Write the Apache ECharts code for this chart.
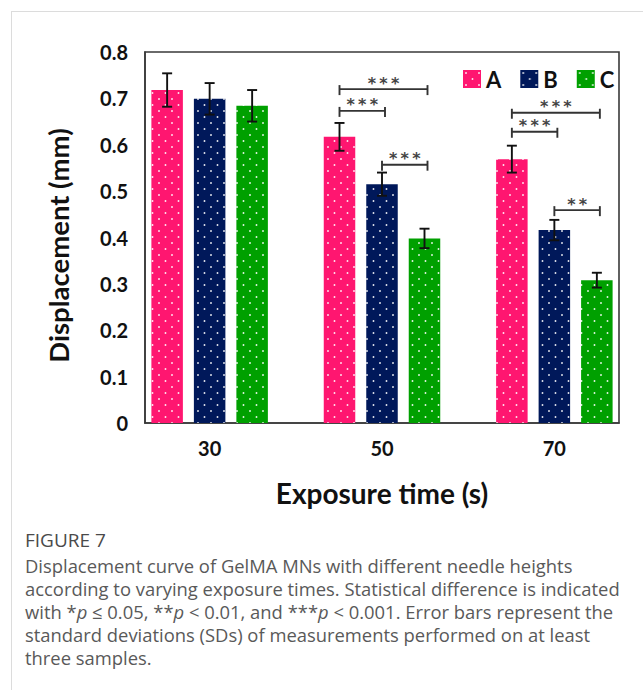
<!DOCTYPE html>
<html>
<head>
<meta charset="utf-8">
<script src="https://cdn.jsdelivr.net/npm/echarts@6/dist/echarts.min.js"></script>
<style>
  html, body { margin: 0; padding: 0; background: #fff; }
  #wrap { position: relative; width: 643px; height: 690px; overflow: hidden; }
  #chart { position: absolute; left: 0; top: 0; width: 643px; height: 690px; }
  #frameTop { position: absolute; left: 11px; top: 11px; width: 640px; height: 0; border-top: 1.5px solid #dcdcdc; }
  #frameLeft { position: absolute; left: 11px; top: 11px; width: 0; height: 690px; border-left: 1.5px solid #dcdcdc; }
  #caption { position: absolute; left: 25px; top: 527px; width: 616px; font-family: "Open Sans", "Lato", sans-serif; color: #595959; }
  #caption .fig { font-size: 19px; color: #4a4a4a; margin-bottom: 1px; line-height: 26px; }
  #caption .txt { font-size: 18.4px; line-height: 23px; white-space: nowrap; }
</style>
</head>
<body>
<div id="wrap">
  <div id="frameTop"></div>
  <div id="frameLeft"></div>
  <div id="chart"></div>
  <div id="caption">
    <div class="fig">FIGURE 7</div>
    <div class="txt">Displacement curve of GelMA MNs with different needle heights<br>according to varying exposure times. Statistical difference is indicated<br>with *<i>p</i> ≤ 0.05, **<i>p</i> &lt; 0.01, and ***<i>p</i> &lt; 0.001. Error bars represent the<br>standard deviations (SDs) of measurements performed on at least<br>three samples.</div>
  </div>
</div>
<script>
// ---- data ----
const categories = [30, 50, 70];
const seriesNames = ['A', 'B', 'C'];
const meanA = [0.718, 0.617, 0.569];
const meanB = [0.699, 0.515, 0.416];
const meanC = [0.684, 0.398, 0.308];
const sdA = [0.036, 0.030, 0.029];
const sdB = [0.034, 0.025, 0.022];
const sdC = [0.034, 0.021, 0.016];
const yTickValues = [0, 0.1, 0.2, 0.3, 0.4, 0.5, 0.6, 0.7, 0.8];
// significance brackets
const sigCategory = [50, 50, 50, 70, 70, 70];
const sigFrom = [0, 0, 1, 0, 0, 1];
const sigTo = [2, 1, 2, 2, 1, 2];
const sigY = [0.720, 0.673, 0.557, 0.669, 0.628, 0.459];
const sigLabel = ['***', '***', '***', '***', '***', '**'];

// ---- styling ----
const colors = ['#FF1670', '#00185A', '#00A000'];
const BAR_W = 31.5;
const BAR_GAP_PX = 11;
const FONT = 'Lato, "Open Sans", sans-serif';

function makePattern(color) {
  const c = document.createElement('canvas');
  c.width = 13; c.height = 12;
  const g = c.getContext('2d');
  g.fillStyle = color; g.fillRect(0, 0, 13, 12);
  g.fillStyle = 'rgba(255,255,255,0.9)';
  g.beginPath(); g.arc(3, 3, 0.95, 0, Math.PI * 2); g.fill();
  g.beginPath(); g.arc(9.5, 9, 0.95, 0, Math.PI * 2); g.fill();
  return { image: c, repeat: 'repeat' };
}

const means = [meanA, meanB, meanC];
const sds = [sdA, sdB, sdC];

const barSeries = seriesNames.map((name, k) => ({
  name: name,
  type: 'bar',
  barWidth: BAR_W,
  barGap: (BAR_GAP_PX / BAR_W * 100).toFixed(1) + '%',
  itemStyle: { color: makePattern(colors[k]) },
  data: categories.map((x, i) => [x, means[k][i]]),
  z: 2
}));

const errData = [];
seriesNames.forEach((n, k) => categories.forEach((x, i) => errData.push([x, means[k][i], sds[k][i], k])));

const errSeries = {
  type: 'custom',
  name: 'err',
  data: errData,
  encode: { x: 0, y: 1 },
  z: 5,
  silent: true,
  renderItem: function (params, api) {
    const x = api.value(0), m = api.value(1), s = api.value(2), k = api.value(3);
    const off = (k - 1) * (BAR_W + BAR_GAP_PX);
    const t = api.coord([x, m + s]);
    const b = api.coord([x, m - s]);
    const cx = t[0] + off;
    const st = { stroke: '#111', lineWidth: 1.9 };
    return {
      type: 'group',
      children: [
        { type: 'line', shape: { x1: cx, y1: t[1], x2: cx, y2: b[1] }, style: st },
        { type: 'line', shape: { x1: cx - 5, y1: t[1], x2: cx + 5, y2: t[1] }, style: st },
        { type: 'line', shape: { x1: cx - 5, y1: b[1], x2: cx + 5, y2: b[1] }, style: st }
      ]
    };
  }
};

const sigData = sigCategory.map((x, i) => [x, sigY[i], sigFrom[i], sigTo[i], i]);
const sigSeries = {
  type: 'custom',
  name: 'sig',
  data: sigData,
  encode: { x: 0, y: 1 },
  z: 6,
  silent: true,
  renderItem: function (params, api) {
    const x = api.value(0), y = api.value(1), f = api.value(2), t = api.value(3), idx = api.value(4);
    const p = api.coord([x, y]);
    const step = BAR_W + BAR_GAP_PX;
    const x1 = p[0] + (f - 1) * step;
    const x2 = p[0] + (t - 1) * step + 3;
    const st = { stroke: '#333', lineWidth: 1.9 };
    const txt = sigLabel[idx].split('').join('\u2009');
    return {
      type: 'group',
      children: [
        { type: 'line', shape: { x1: x1, y1: p[1], x2: x2, y2: p[1] }, style: st },
        { type: 'line', shape: { x1: x1, y1: p[1] - 4, x2: x1, y2: p[1] + 6 }, style: st },
        { type: 'line', shape: { x1: x2, y1: p[1] - 4, x2: x2, y2: p[1] + 6 }, style: st },
        { type: 'text', style: { text: txt, x: (x1 + x2) / 2, y: p[1] - 6, align: 'center', verticalAlign: 'middle', fill: '#444', font: 'bold 16px "DejaVu Sans", sans-serif' } }
      ]
    };
  }
};

const chart = echarts.init(document.getElementById('chart'), null, { renderer: 'svg' });
chart.setOption({
  animation: false,
  backgroundColor: 'transparent',
  grid: { left: 145, top: 52, width: 474, height: 371, show: true, borderColor: '#3a3a3a', borderWidth: 1.6, backgroundColor: 'transparent' },
  legend: {
    data: seriesNames,
    left: 458, top: 63,
    itemWidth: 18, itemHeight: 18, itemGap: 19,
    icon: 'rect',
    textStyle: { fontFamily: FONT, fontWeight: 'bold', fontSize: 22, color: '#111', padding: [0, 0, 0, 0] },
    selectedMode: false
  },
  xAxis: {
    type: 'value',
    min: 22.5, max: 77.5,
    name: 'Exposure time (s)',
    nameLocation: 'middle',
    nameGap: 56,
    nameTextStyle: { fontFamily: FONT, fontWeight: 'bold', fontSize: 28, color: '#111' },
    axisLine: { show: true, lineStyle: { color: '#3a3a3a', width: 1.6 } },
    axisTick: { show: false },
    splitLine: { show: false },
    axisLabel: { customValues: categories, margin: 15, fontFamily: FONT, fontWeight: 'bold', fontSize: 20, color: '#111', formatter: v => String(v) }
  },
  yAxis: {
    type: 'value',
    min: 0, max: 0.8, interval: 0.1,
    name: 'Displacement (mm)',
    nameLocation: 'middle',
    nameGap: 73,
    nameTextStyle: { fontFamily: FONT, fontWeight: 'bold', fontSize: 27.5, color: '#111', padding: [0, 16, 0, 0] },
    axisLine: { show: true, lineStyle: { color: '#3a3a3a', width: 1.6 } },
    axisTick: { show: false },
    splitLine: { show: false },
    axisLabel: { customValues: yTickValues, margin: 17, fontFamily: FONT, fontWeight: 'bold', fontSize: 20, color: '#111', padding: [0, 0, 6, 0], formatter: v => String(+v.toFixed(1)) }
  },
  series: barSeries.concat([errSeries, sigSeries])
});
</script>
</body>
</html>
